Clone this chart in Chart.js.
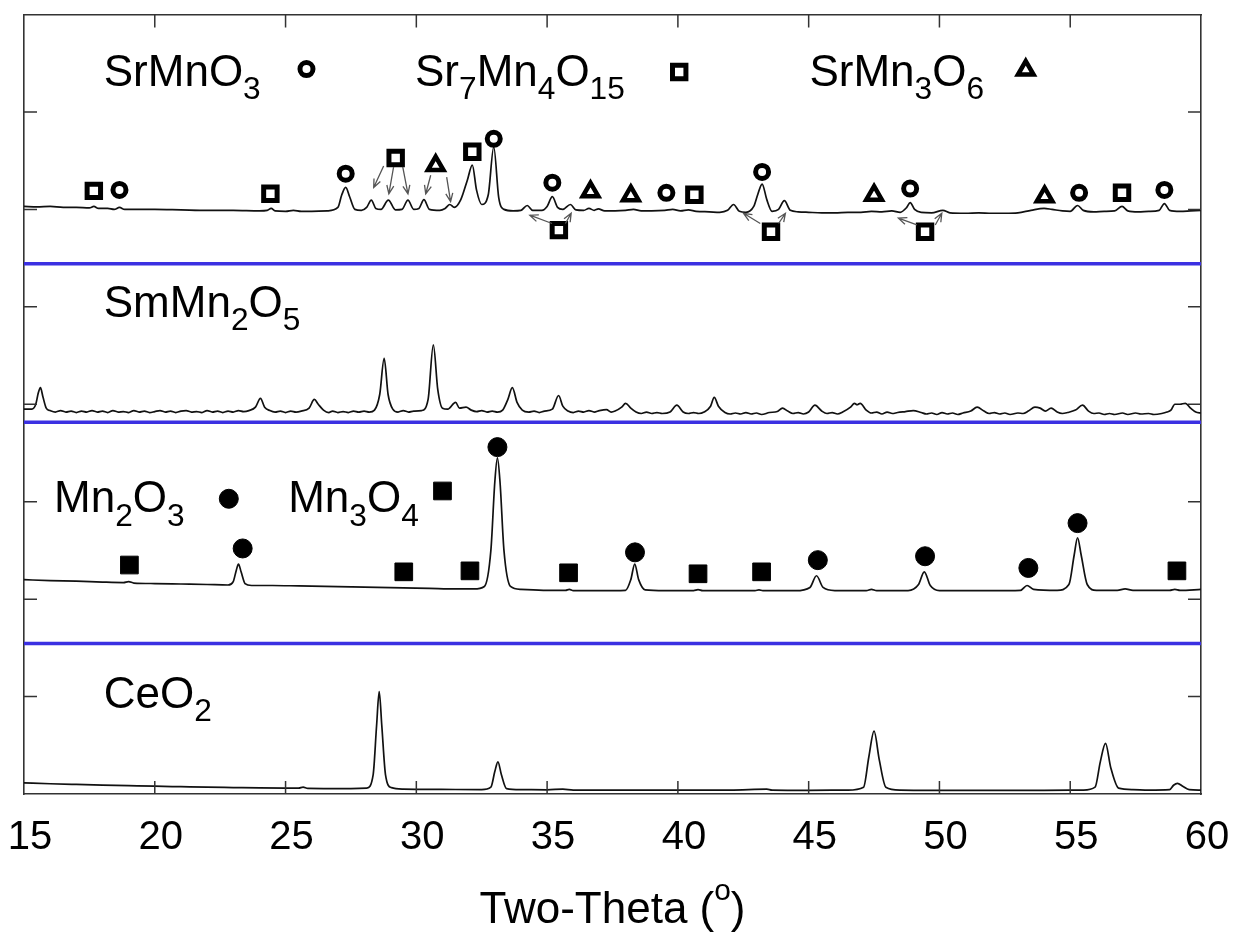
<!DOCTYPE html>
<html>
<head>
<meta charset="utf-8">
<script src="https://cdn.jsdelivr.net/npm/chart.js@4.4.1/dist/chart.umd.min.js"></script>
<style>
  html, body { margin: 0; padding: 0; background: #fff; }
  #wrap { width: 1238px; height: 935px; }
</style>
</head>
<body>
<div id="wrap"><canvas id="xrd" width="1238" height="935"></canvas></div>
<script>
const FONT = '"Liberation Sans", Arial, Helvetica, sans-serif';

// x axis
const xTicks = [15, 20, 25, 30, 35, 40, 45, 50, 55, 60];

// patterns, stacked with an offset (two-theta, intensity)
const ceo2 = [[15.0,0.115],[16.0,0.105],[17.0,0.098],[18.0,0.092],[19.0,0.086],[20.0,0.08],[21.0,0.075],[22.0,0.07],[23.0,0.066],[24.0,0.062],[25.0,0.06],[25.5,0.06],[25.67,0.07],[25.85,0.057],[26.5,0.056],[27.5,0.055],[28.1,0.06],[28.35,0.2],[28.48,0.7],[28.58,1.05],[28.68,0.7],[28.82,0.2],[29.05,0.065],[29.5,0.05],[30.5,0.048],[31.5,0.046],[32.5,0.045],[32.85,0.07],[33.0,0.23],[33.12,0.33],[33.25,0.2],[33.45,0.055],[34.0,0.045],[35.0,0.043],[35.6,0.05],[36.0,0.04],[38.0,0.04],[40.0,0.04],[42.0,0.04],[43.4,0.05],[43.6,0.04],[45.0,0.038],[46.5,0.04],[47.1,0.07],[47.3,0.38],[47.5,0.645],[47.7,0.35],[47.95,0.07],[48.5,0.04],[50.0,0.038],[52.0,0.037],[54.0,0.037],[55.5,0.04],[55.95,0.07],[56.15,0.33],[56.35,0.52],[56.55,0.27],[56.85,0.06],[57.4,0.045],[58.0,0.04],[58.8,0.045],[58.95,0.09],[59.1,0.11],[59.3,0.08],[59.55,0.045],[60.0,0.04]];

const mnox = [[15.0,2.2],[16.0,2.19],[17.0,2.185],[18.0,2.175],[18.8,2.17],[19.0,2.18],[19.2,2.165],[20.0,2.16],[21.0,2.155],[22.0,2.15],[22.8,2.145],[23.0,2.18],[23.12,2.3],[23.2,2.36],[23.3,2.28],[23.45,2.16],[23.7,2.14],[24.5,2.14],[25.5,2.135],[26.5,2.13],[27.5,2.125],[28.5,2.12],[29.5,2.115],[30.5,2.11],[31.5,2.105],[32.2,2.105],[32.6,2.13],[32.85,2.5],[33.0,3.2],[33.1,3.45],[33.2,3.2],[33.35,2.5],[33.6,2.13],[34.0,2.1],[35.0,2.09],[35.7,2.09],[35.85,2.1],[36.0,2.088],[37.0,2.087],[38.0,2.09],[38.2,2.2],[38.35,2.36],[38.5,2.2],[38.75,2.095],[39.5,2.087],[40.6,2.088],[40.77,2.097],[40.95,2.087],[42.0,2.087],[42.95,2.087],[43.1,2.095],[43.25,2.087],[44.5,2.087],[45.05,2.12],[45.3,2.24],[45.55,2.12],[46.0,2.088],[47.2,2.088],[47.4,2.1],[47.6,2.088],[48.8,2.088],[49.2,2.15],[49.42,2.28],[49.65,2.14],[50.0,2.088],[52.0,2.087],[53.1,2.09],[53.35,2.14],[53.6,2.1],[54.5,2.09],[54.95,2.15],[55.15,2.45],[55.28,2.63],[55.42,2.45],[55.65,2.15],[56.0,2.09],[56.8,2.09],[57.1,2.105],[57.4,2.09],[58.8,2.09],[59.0,2.1],[59.2,2.09],[60.0,2.1]];

const smmn2o5 = [[15.0,3.95],[15.3,3.95],[15.45,4.0],[15.55,4.12],[15.63,4.17],[15.72,4.08],[15.85,3.96],[16.0,3.935],[16.2,3.92],[16.4,3.935],[16.6,3.92],[16.8,3.93],[17.0,3.915],[17.2,3.93],[17.4,3.92],[17.6,3.935],[17.8,3.92],[18.0,3.93],[18.2,3.915],[18.4,3.935],[18.6,3.92],[18.8,3.925],[19.0,3.915],[19.2,3.935],[19.4,3.92],[19.6,3.93],[19.8,3.915],[20.0,3.925],[20.2,3.935],[20.4,3.92],[20.6,3.93],[20.8,3.915],[21.0,3.93],[21.2,3.935],[21.4,3.92],[21.6,3.925],[21.8,3.915],[22.0,3.935],[22.2,3.92],[22.4,3.93],[22.6,3.915],[22.8,3.93],[23.0,3.92],[23.2,3.935],[23.4,3.925],[23.6,3.935],[23.85,3.97],[24.04,4.06],[24.2,3.97],[24.4,3.935],[24.6,3.92],[24.8,3.93],[25.0,3.915],[25.2,3.93],[25.4,3.92],[25.6,3.93],[25.9,3.96],[26.1,4.05],[26.25,4.0],[26.45,3.94],[26.65,3.915],[26.8,3.93],[27.0,3.915],[27.2,3.925],[27.4,3.915],[27.6,3.93],[27.8,3.92],[28.0,3.93],[28.2,3.92],[28.4,3.94],[28.6,4.1],[28.77,4.47],[28.92,4.1],[29.1,3.95],[29.3,3.92],[29.5,3.935],[29.7,3.92],[29.9,3.93],[30.2,3.935],[30.45,4.05],[30.65,4.61],[30.82,4.15],[31.0,3.96],[31.2,3.95],[31.5,4.02],[31.65,3.96],[31.9,3.97],[32.1,3.94],[32.3,3.925],[32.5,3.935],[32.7,3.92],[32.9,3.93],[33.1,3.92],[33.3,3.94],[33.5,4.05],[33.67,4.17],[33.85,4.02],[34.05,3.94],[34.3,3.92],[34.5,3.93],[34.7,3.915],[34.9,3.93],[35.2,3.95],[35.44,4.09],[35.6,3.98],[35.8,3.93],[36.0,3.915],[36.2,3.93],[36.4,3.92],[36.6,3.935],[36.8,3.92],[37.0,3.935],[37.27,3.945],[37.45,3.92],[37.6,3.93],[37.85,3.97],[38.0,4.01],[38.2,3.96],[38.4,3.92],[38.6,3.905],[38.8,3.92],[39.0,3.905],[39.2,3.915],[39.4,3.905],[39.7,3.92],[39.96,3.99],[40.2,3.92],[40.4,3.905],[40.6,3.915],[40.8,3.905],[41.0,3.92],[41.25,3.98],[41.39,4.07],[41.55,3.98],[41.8,3.915],[42.0,3.9],[42.2,3.91],[42.4,3.9],[42.6,3.915],[42.8,3.9],[43.0,3.91],[43.2,3.895],[43.5,3.915],[43.8,3.925],[44.0,3.96],[44.2,3.93],[44.4,3.905],[44.6,3.915],[44.8,3.9],[45.0,3.92],[45.24,3.99],[45.5,3.93],[45.7,3.905],[45.9,3.915],[46.1,3.9],[46.3,3.92],[46.6,3.97],[46.75,4.01],[46.85,3.995],[46.97,4.01],[47.2,3.94],[47.4,3.91],[47.6,3.92],[47.8,3.9],[48.0,3.92],[48.2,3.905],[48.4,3.915],[48.7,3.925],[49.0,3.935],[49.3,3.915],[49.5,3.9],[49.7,3.91],[49.9,3.895],[50.1,3.915],[50.3,3.9],[50.5,3.91],[50.7,3.895],[50.9,3.91],[51.2,3.93],[51.44,3.97],[51.7,3.93],[51.9,3.905],[52.1,3.915],[52.3,3.9],[52.5,3.91],[52.7,3.895],[53.0,3.91],[53.2,3.905],[53.4,3.93],[53.65,3.97],[53.85,3.96],[54.05,3.93],[54.27,3.96],[54.5,3.92],[54.7,3.905],[54.9,3.915],[55.2,3.94],[55.47,3.99],[55.7,3.93],[55.9,3.905],[56.1,3.91],[56.3,3.895],[56.5,3.905],[56.7,3.895],[57.0,3.91],[57.2,3.895],[57.5,3.91],[57.7,3.9],[58.0,3.905],[58.2,3.895],[58.5,3.905],[58.7,3.92],[58.85,3.94],[59.0,4.0],[59.2,4.0],[59.4,4.01],[59.6,3.96],[59.8,3.92],[60.0,3.91]];

const srmix = [[15.0,6.03],[15.5,6.025],[16.0,6.03],[16.5,6.02],[17.0,6.02],[17.5,6.015],[17.67,6.03],[17.85,6.01],[18.2,6.01],[18.45,6.0],[18.65,6.02],[18.85,6.0],[19.3,6.0],[20.0,6.0],[21.0,5.995],[22.0,5.99],[23.0,5.99],[24.0,5.985],[24.3,5.99],[24.45,6.01],[24.6,5.985],[25.0,5.98],[25.3,5.99],[25.6,5.98],[26.0,5.98],[26.6,5.985],[27.0,6.02],[27.15,6.15],[27.3,6.225],[27.45,6.13],[27.65,6.0],[27.9,5.99],[28.1,6.02],[28.28,6.095],[28.45,6.01],[28.65,6.0],[28.93,6.095],[29.2,5.995],[29.45,6.0],[29.68,6.095],[29.9,6.0],[30.1,6.01],[30.29,6.1],[30.5,6.0],[30.9,5.99],[31.1,6.01],[31.28,6.05],[31.45,6.02],[31.7,6.1],[31.95,6.3],[32.14,6.455],[32.3,6.2],[32.5,6.05],[32.75,6.15],[32.96,6.64],[33.15,6.12],[33.35,6.0],[33.7,5.985],[34.0,5.99],[34.24,6.04],[34.45,5.99],[34.8,5.99],[35.0,6.03],[35.2,6.13],[35.4,6.02],[35.6,6.0],[35.89,6.05],[36.1,5.995],[36.4,5.99],[36.6,6.01],[36.8,5.99],[36.96,6.005],[37.2,5.985],[37.6,5.985],[38.0,5.99],[38.3,6.0],[38.6,5.985],[39.0,5.985],[39.5,5.99],[39.8,6.0],[40.1,5.985],[40.4,5.995],[40.7,5.98],[41.2,5.975],[41.6,5.97],[41.9,5.99],[42.13,6.05],[42.35,5.98],[42.6,5.97],[42.9,6.03],[43.05,6.15],[43.22,6.26],[43.4,6.1],[43.6,5.98],[43.85,6.0],[44.07,6.09],[44.3,5.99],[44.6,5.975],[45.0,5.97],[45.5,5.965],[46.0,5.965],[46.5,5.97],[47.0,5.97],[47.4,5.98],[47.8,5.975],[48.18,5.985],[48.5,5.97],[48.75,6.02],[48.88,6.07],[49.05,6.0],[49.3,5.97],[49.7,5.965],[50.13,5.99],[50.4,5.965],[51.0,5.96],[51.5,5.965],[52.0,5.96],[52.5,5.96],[53.0,5.965],[53.5,5.99],[54.0,6.01],[54.3,6.0],[54.7,5.985],[55.0,5.98],[55.28,6.04],[55.5,5.99],[55.9,5.975],[56.3,5.98],[56.7,5.985],[56.98,6.03],[57.2,5.985],[57.6,5.975],[58.0,5.98],[58.4,5.99],[58.6,6.06],[58.8,5.99],[59.2,5.98],[59.6,5.985],[60.0,5.99]];

// blue separators between the patterns
const separators = [1.545, 3.816, 5.442];

// phase marks (two-theta, height)
const srmno3Marks = [[18.65,6.20],[27.3,6.366],[32.96,6.724],[35.2,6.274],[39.56,6.17],[43.22,6.384],[48.88,6.213],[55.34,6.17],[58.6,6.20]];
const sr7mn4o15Marks = [[17.67,6.19],[24.42,6.16],[29.21,6.527],[32.14,6.592],[35.45,5.787],[40.63,6.15],[43.56,5.77],[49.45,5.77],[56.98,6.17]];
const srmn3o6Marks = [[30.74,6.45],[36.66,6.18],[38.2,6.14],[47.5,6.145],[54.02,6.13]];
const mn2o3Marks = [[23.36,2.52],[33.1,3.56],[38.36,2.48],[45.35,2.40],[49.45,2.44],[53.4,2.32],[55.28,2.78]];
const mn3o4Marks = [[19.03,2.35],[29.52,2.28],[32.05,2.29],[35.82,2.27],[40.77,2.26],[43.2,2.28],[59.08,2.29]];

// key symbols next to the phase names
const srmno3Key = [[25.8,7.44]];
const sr7mn4o15Key = [[40.05,7.41]];
const srmn3o6Key = [[53.3,7.43]];
const mn2o3Key = [[22.83,3.03]];
const mn3o4Key = [[31.0,3.11]];

// arrows from a mark to its peak: x1, y1, x2, y2
const arrows = [[28.75,6.445,28.37,6.225],[29.13,6.435,28.95,6.16],[29.48,6.435,29.68,6.16],[30.55,6.35,30.36,6.16],[31.16,6.33,31.31,6.08],[35.19,5.855,34.34,5.94],[35.70,5.855,35.92,5.96],[43.15,5.855,42.51,5.96],[43.85,5.855,44.11,5.96],[49.14,5.84,48.43,5.91],[49.84,5.84,50.09,5.96]];

// names: _n = subscript
const names = [['SrMnO_3',18.05,7.27],['Sr_7Mn_4O_15',29.95,7.27],['SrMn_3O_6',45.03,7.27],['SmMn_2O_5',18.05,4.9],['Mn_2O_3',16.15,2.89],['Mn_3O_4',25.1,2.89],['CeO_2',18.05,0.887]];

const pts = a => a.map(p => ({ x: p[0], y: p[1] }));

function trace(data) {
  return { data: pts(data), borderColor: '#111', borderWidth: 1.7, pointRadius: 0,
    cubicInterpolationMode: 'monotone', fill: false, order: 2 };
}
function marks(data, style, radius, filled, bw) {
  return { type: 'scatter', data: pts(data), pointStyle: style, pointRadius: radius,
    pointBorderColor: '#000', pointBackgroundColor: filled ? '#000' : '#fff',
    pointBorderWidth: bw, showLine: false, order: 0 };
}

const datasets = [];
separators.forEach(v => datasets.push({ data: [{ x: 15, y: v }, { x: 60, y: v }],
  borderColor: '#3b30e2', borderWidth: 3.5, pointRadius: 0, order: 3 }));
[ceo2, mnox, smmn2o5, srmix].forEach(t => datasets.push(trace(t)));
datasets.push(marks(srmno3Marks.concat(srmno3Key), 'circle', 6.5, false, 5));
datasets.push(marks(sr7mn4o15Marks.concat(sr7mn4o15Key), 'rect', 9.5, false, 5));
datasets.push(marks(srmn3o6Marks.concat(srmn3o6Key), 'triangle', 9, false, 4.5));
datasets.push(marks(mn2o3Marks.concat(mn2o3Key), 'circle', 9.5, true, 1));
datasets.push(marks(mn3o4Marks.concat(mn3o4Key), 'rect', 12.5, true, 1));

function richText(ctx, str, x, y, size, draw) {
  const parts = str.match(/_[0-9]+|\^[a-z0-9]+|[^_^]+/g);
  let cx = x;
  parts.forEach(p => {
    let fs = size, dy = 0, t = p;
    if (p[0] === '_') { fs = size * 0.72; dy = size * 0.3; t = p.slice(1); }
    else if (p[0] === '^') { fs = size * 0.68; dy = -size * 0.52; t = p.slice(1); }
    ctx.font = fs + 'px ' + FONT;
    if (draw) ctx.fillText(t, cx, y + dy);
    cx += ctx.measureText(t).width;
  });
  return cx - x;
}

function arrow(ctx, x1, y1, x2, y2) {
  const a = Math.atan2(y2 - y1, x2 - x1), h = 9;
  ctx.beginPath();
  ctx.moveTo(x1, y1); ctx.lineTo(x2, y2);
  ctx.moveTo(x2 - h * Math.cos(a - 0.4), y2 - h * Math.sin(a - 0.4));
  ctx.lineTo(x2, y2);
  ctx.lineTo(x2 - h * Math.cos(a + 0.4), y2 - h * Math.sin(a + 0.4));
  ctx.stroke();
}

const extras = {
  id: 'extras',
  afterDraw(chart) {
    const ctx = chart.ctx, sx = chart.scales.x, sy = chart.scales.y;
    const { left, right, top, bottom } = chart.chartArea;
    ctx.save();
    // inside tick marks on all four sides
    ctx.strokeStyle = '#333'; ctx.lineWidth = 1.5;
    ctx.beginPath();
    sx.ticks.forEach(t => {
      const px = sx.getPixelForValue(t.value);
      if (px <= left + 1 || px >= right - 1) return;
      ctx.moveTo(px, bottom); ctx.lineTo(px, bottom - 13);
      ctx.moveTo(px, top); ctx.lineTo(px, top + 13);
    });
    sy.ticks.forEach(t => {
      const py = sy.getPixelForValue(t.value);
      if (py <= top + 1 || py >= bottom - 1) return;
      ctx.moveTo(left, py); ctx.lineTo(left + 13, py);
      ctx.moveTo(right, py); ctx.lineTo(right - 13, py);
    });
    ctx.stroke();

    // arrows
    ctx.strokeStyle = '#555'; ctx.lineWidth = 1.3;
    arrows.forEach(a => arrow(ctx, sx.getPixelForValue(a[0]), sy.getPixelForValue(a[1]),
      sx.getPixelForValue(a[2]), sy.getPixelForValue(a[3])));

    // phase names
    ctx.fillStyle = '#000';
    ctx.textBaseline = 'alphabetic';
    ctx.textAlign = 'left';
    names.forEach(n => richText(ctx, n[0], sx.getPixelForValue(n[1]), sy.getPixelForValue(n[2]), 44, true));

    // axis title
    const title = 'Two-Theta (^o)';
    const w = richText(ctx, title, 0, 0, 44, false);
    richText(ctx, title, (left + right) / 2 - w / 2, chart.height - 12, 44, true);
    ctx.restore();
  }
};

const frame = { display: true, color: '#333', width: 1.6 };
const hidden = { display: false, drawTicks: false };

new Chart(document.getElementById('xrd'), {
  type: 'line',
  data: { datasets: datasets },
  options: {
    responsive: false,
    animation: false,
    devicePixelRatio: 1,
    layout: { padding: { left: 24, right: 37, top: 12, bottom: 0 } },
    plugins: { legend: { display: false }, tooltip: { enabled: false } },
    scales: {
      x: {
        type: 'linear', position: 'bottom', min: 15, max: 60,
        afterBuildTicks: s => { s.ticks = xTicks.map(v => ({ value: v })); },
        ticks: { font: { size: 40, family: FONT }, color: '#000', padding: 20, labelOffset: 6, maxRotation: 0 },
        grid: hidden, border: frame,
        afterFit: s => { s.height = 141; s.paddingLeft = 0; s.paddingRight = 0; }
      },
      xTop: {
        type: 'linear', position: 'top', min: 15, max: 60,
        ticks: { display: false }, grid: hidden, border: frame,
        afterFit: s => { s.height = 0; s.paddingLeft = 0; s.paddingRight = 0; }
      },
      y: {
        type: 'linear', position: 'left', min: 0, max: 8,
        ticks: { display: false, stepSize: 1 }, grid: hidden, border: frame,
        afterFit: s => { s.width = 0; s.paddingTop = 0; s.paddingBottom = 0; }
      },
      yRight: {
        type: 'linear', position: 'right', min: 0, max: 8,
        ticks: { display: false }, grid: hidden, border: frame,
        afterFit: s => { s.width = 0; s.paddingTop = 0; s.paddingBottom = 0; }
      }
    }
  },
  plugins: [extras]
});
</script>
</body>
</html>
